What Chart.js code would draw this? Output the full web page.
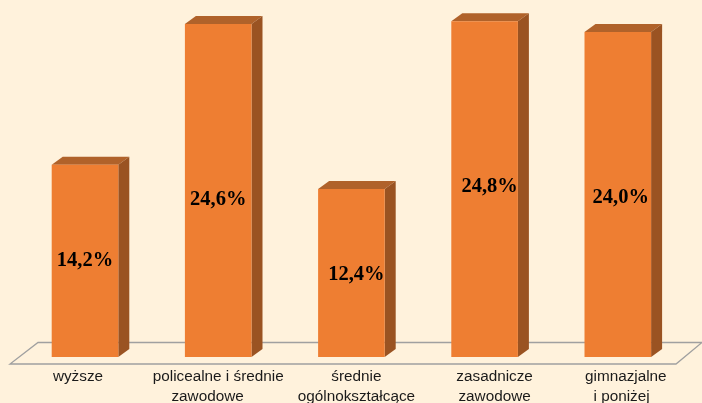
<!DOCTYPE html>
<html>
<head>
<meta charset="utf-8">
<script src="https://cdn.jsdelivr.net/npm/chart.js@4"></script>
<style>
  html, body { margin: 0; padding: 0; background: #FFF2DC; overflow: hidden; }
  #wrap { width: 702px; height: 403px; }
</style>
</head>
<body>
<div id="wrap"><canvas id="chart"></canvas></div>
<script>
// trailing spaces keep "zawodowe" off-centre under its first line, as in the original
const categories = [
  "wyższe",
  ["policealne i średnie", "zawodowe     "],
  ["średnie", "ogólnokształcące"],
  ["zasadnicze", "zawodowe"],
  ["gimnazjalne", "i poniżej  "]
];
const values = [14.2, 24.6, 12.4, 24.8, 24.0];
const valueLabels = ["14,2%", "24,6%", "12,4%", "24,8%", "24,0%"];
// hand placed like in the original, px from the middle of each bar
const labelNudgeX = [0, 0, 5, 5, 3];
const labelNudgeY = [0, 9, 2, -2, 3];
// category labels are not centred under the bars in the original either
const tickNudgeX = [-7, 0, 5, 10, 8];

const depthX = 11, depthY = 8;

// floor + bar sides, drawn before the bars go on top
const box3d = {
  id: "box3d",
  beforeDraw(chart) {
    chart.scales.x.getLabelItems().forEach((item, i) => {
      if (item.nudged) return;
      item.options.translation[0] += tickNudgeX[i];
      item.nudged = true;
    });
  },
  beforeDatasetsDraw(chart) {
    const ctx = chart.ctx;
    const bars = chart.getDatasetMeta(0).data;
    const base = chart.scales.y.getPixelForValue(0);

    ctx.save();
    ctx.strokeStyle = "#A0A0A0";
    ctx.lineWidth = 1.3;
    ctx.beginPath();
    ctx.moveTo(702, base - 14.5);
    ctx.lineTo(38, base - 14.5);
    ctx.lineTo(10, base + 7);
    ctx.lineTo(676, base + 7);
    ctx.lineTo(702, base - 14.5);
    ctx.stroke();

    bars.forEach(bar => {
      const left = bar.x - bar.width / 2;
      const right = bar.x + bar.width / 2;
      ctx.fillStyle = "#B0622A";
      ctx.beginPath();
      ctx.moveTo(left, bar.y);
      ctx.lineTo(left + depthX, bar.y - depthY);
      ctx.lineTo(right + depthX, bar.y - depthY);
      ctx.lineTo(right, bar.y);
      ctx.closePath();
      ctx.fill();
      ctx.fillStyle = "#9A5322";
      ctx.beginPath();
      ctx.moveTo(right, bar.y);
      ctx.lineTo(right + depthX, bar.y - depthY);
      ctx.lineTo(right + depthX, base - depthY);
      ctx.lineTo(right, base);
      ctx.closePath();
      ctx.fill();
    });
    ctx.restore();
  },
  afterDatasetsDraw(chart) {
    const ctx = chart.ctx;
    const bars = chart.getDatasetMeta(0).data;
    ctx.save();
    ctx.font = "bold 20.5px 'Liberation Serif'";
    ctx.fillStyle = "#000";
    ctx.textAlign = "center";
    ctx.textBaseline = "middle";
    bars.forEach((bar, i) => {
      const mid = (bar.y + bar.base) / 2;
      ctx.fillText(valueLabels[i], bar.x + labelNudgeX[i], mid + labelNudgeY[i]);
    });
    ctx.restore();
  }
};

new Chart(document.getElementById("chart"), {
  type: "bar",
  data: {
    labels: categories,
    datasets: [{
      data: values,
      backgroundColor: "#EE7E32",
      borderWidth: 0,
      categoryPercentage: 1,
      barPercentage: 0.5
    }]
  },
  options: {
    responsive: true,
    maintainAspectRatio: false,
    animation: false,
    layout: { padding: { left: 18.4, right: 17.6, top: 5, bottom: 0 } },
    plugins: { legend: { display: false }, tooltip: { enabled: false } },
    scales: {
      x: {
        grid: { display: false },
        border: { display: false },
        afterFit(scale) { scale.height = 46; },
        ticks: {
          maxRotation: 0,
          autoSkip: false,
          padding: 2,
          color: "#1a1a1a",
          font: { family: "'Liberation Sans'", size: 15.3, lineHeight: 1.31 }
        }
      },
      y: {
        display: false,
        min: 0,
        max: 26
      }
    }
  },
  plugins: [box3d]
});
</script>
</body>
</html>
